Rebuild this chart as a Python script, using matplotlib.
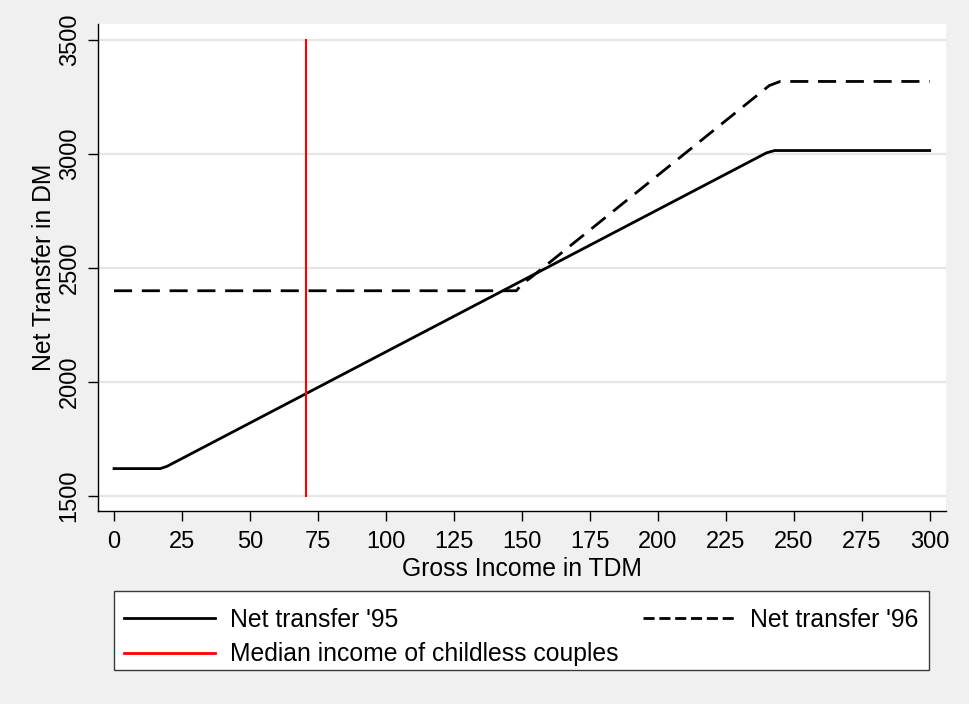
import numpy as np
import matplotlib.pyplot as plt
from matplotlib.lines import Line2D
from matplotlib.patches import Rectangle

plt.rcParams['font.family'] = ['Liberation Sans', 'DejaVu Sans']

# Net transfer '95 (kinked schedule)
income_95 = [0, 17, 19.5, 240, 243, 300]
transfer_95 = [1620, 1620, 1630, 3005, 3015, 3015]

# Net transfer '96
income_96 = [0, 148, 150, 153, 241, 245, 300]
transfer_96 = [2400, 2400, 2430, 2455, 3300, 3318, 3318]

median_income = 70.5
median_span = [1500, 3500]

xticks = list(range(0, 301, 25))
yticks = [1500, 2000, 2500, 3000, 3500]

fig = plt.figure(figsize=(9.7, 7.04), dpi=100, facecolor='#f0f0f0')
W, H = 970, 704
ax = fig.add_axes([98 / W, (H - 511) / H, 848 / W, 487 / H])
ax.set_facecolor('white')

for yv in yticks:
    ax.axhline(yv, color='#e6e6e6', lw=1.6, zorder=0)

ax.plot(income_95, transfer_95, color='black', lw=2.0, zorder=3)
ax.plot(income_96, transfer_96, color='black', lw=2.0, dashes=(6.5, 3.5), zorder=3)
ax.plot([median_income, median_income], median_span, color='red', lw=1.5, zorder=4)

ax.set_xlim(-5.9, 306)
ax.set_ylim(1434, 3570)
ax.set_xticks(xticks)
ax.set_yticks(yticks)
ax.set_yticklabels([str(v) for v in yticks], rotation=90, va='center')

for s in ['top', 'right']:
    ax.spines[s].set_visible(False)
for s in ['left', 'bottom']:
    ax.spines[s].set_linewidth(1.0)
    ax.spines[s].set_color('black')

ax.tick_params(axis='both', labelsize=17, length=7.5, width=1.0, color='black')
ax.tick_params(axis='x', pad=7)
ax.tick_params(axis='y', pad=5)

ax.set_xlabel('Gross Income in TDM', fontsize=17.8, labelpad=2.5)
ax.set_ylabel('Net Transfer in DM', fontsize=17.8, labelpad=2)

# legend box drawn separately (Stata-style padding)
fig.patches.append(Rectangle((114 / W, (H - 670) / H), (929 - 114) / W, (670 - 591) / H,
                             transform=fig.transFigure, facecolor='white',
                             edgecolor='#3a3a3a', lw=1.0, zorder=1))

h95 = Line2D([], [], color='black', lw=2.0)
h96 = Line2D([], [], color='black', lw=2.0, dashes=(4, 1.7))
hmed = Line2D([], [], color='red', lw=2.0)

leg = fig.legend([h95, hmed, h96],
                 ["Net transfer '95", 'Median income of childless couples', "Net transfer '96"],
                 ncol=2, mode='expand', loc='upper left',
                 bbox_to_anchor=(124 / W, (H - 608) / H, (918 - 124) / W, 0.0),
                 fontsize=17.8, frameon=False, handlelength=3.7,
                 borderaxespad=0, borderpad=0, labelspacing=0.42,
                 handletextpad=0.6)
leg.set_zorder(2)

fig.savefig('out.png', dpi=100, facecolor=fig.get_facecolor())
